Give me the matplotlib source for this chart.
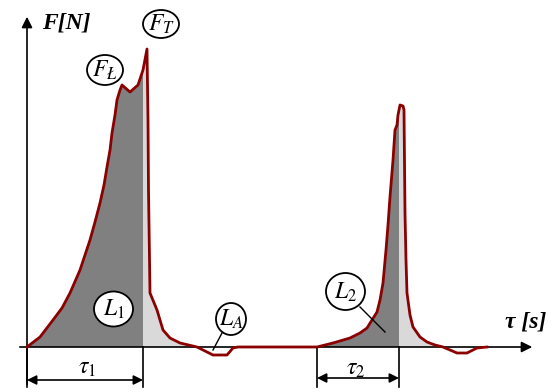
import numpy as np
import matplotlib.pyplot as plt
from matplotlib.patches import Ellipse

plt.rcParams['mathtext.fontset'] = 'stix'

# время и сила (в условных единицах, отсчитано от начала координат)
t = [0, 13, 26, 35, 43, 53, 63, 68, 73, 77, 80, 83, 85, 88, 90, 93, 95, 103, 111, 116,
     120, 121, 121.5, 123, 130, 136, 143, 153, 170, 186, 200, 206, 211,
     290, 306, 323, 333, 340, 345, 350, 353, 356, 359, 361, 363, 366, 368, 370, 371, 373,
     376, 377, 378, 379, 380, 383, 386, 393, 400, 408, 416, 430, 440, 450, 460]
F = [0, 10, 27, 39, 54, 77, 107, 125, 144, 162, 180, 197, 214, 232, 247, 257, 262, 255, 262, 277,
     298, 227, 157, 54, 37, 17, 9, 4, 0, -8, -8, -1, 0,
     0, 4, 9, 14, 19, 27, 35, 47, 64, 97, 122, 150, 187, 217, 222, 232, 242,
     241, 237, 134, 87, 54, 32, 20, 10, 5, 2, 0, -6, -6, -1, 0]

tau1 = [0, 116]
tau2 = [290, 372]

fig = plt.figure(figsize=(5.54, 3.92), dpi=100)
ax = fig.add_axes([0, 0, 1, 1])
ax.set_xlim(-27, 527)
ax.set_ylim(-45, 347)
ax.axis('off')

# заливка
tt = np.arange(0, 460.05, 0.05)
ff = np.interp(tt, t, F)
dark = ((tt >= tau1[0]) & (tt <= tau1[1])) | ((tt >= tau2[0]) & (tt <= tau2[1]))
light = (ff > 0) & ~dark & (((tt > tau1[1]) & (tt < 200)) | (tt > tau2[1]))
ax.fill_between(tt, 0, ff, where=dark, color='#808080', lw=0, zorder=1)
ax.fill_between(tt, 0, ff, where=light, color='#d9d9d9', lw=0, zorder=1)

# оси
ax.annotate('', xy=(508, 0), xytext=(-10, 0),
            arrowprops=dict(arrowstyle='-|>', color='k', lw=1.2, mutation_scale=16), zorder=2)
ax.annotate('', xy=(0, 333), xytext=(0, -40),
            arrowprops=dict(arrowstyle='-|>', color='k', lw=1.2, mutation_scale=16), zorder=2)

# кривая
ax.plot(t, F, color='#8b0000', lw=2, zorder=3)

# размерные линии
for a, b, y in [(tau1[0], tau1[1], -33), (tau2[0], tau2[1], -31)]:
    ax.plot([a, a], [0, -40], color='k', lw=1.2)
    ax.plot([b, b], [0, -40], color='k', lw=1.2)
    ax.annotate('', xy=(a, y), xytext=(b, y),
                arrowprops=dict(arrowstyle='<|-|>', color='k', lw=1.2, mutation_scale=14,
                                shrinkA=0, shrinkB=0))
ax.text(60, -20, r'$\tau_1$', fontsize=17, ha='center', va='center')
ax.text(329, -21, r'$\tau_2$', fontsize=17, ha='center', va='center')

# подписи осей
ax.text(39, 324, 'F[N]', fontsize=17, family='Liberation Serif', style='italic',
        weight='bold', ha='center', va='center')
ax.text(499, 25, 'τ [s]', fontsize=17, family='Liberation Serif', style='italic',
        weight='bold', ha='center', va='center')

# метки в кружках
labels = [(134, 323, 36, 28, r'$F_T$'),
          (78, 277, 36, 30, r'$F_Ł$'),
          (86.5, 38, 39, 35, r'$L_1$'),
          (204, 28, 30, 32, r'$L_A$'),
          (318.5, 55.5, 39, 37, r'$L_2$')]
for x, y, w, h, s in labels:
    ax.add_patch(Ellipse((x, y), w, h, facecolor='white', edgecolor='k', lw=1.3, zorder=4))
    ax.text(x, y, s, fontsize=17, ha='center', va='center', zorder=5)

# выноски
ax.plot([195, 186], [14, -3], color='k', lw=1, zorder=4)
ax.plot([333, 358], [40, 15], color='k', lw=1, zorder=4)

fig.savefig('out.png', dpi=100)
